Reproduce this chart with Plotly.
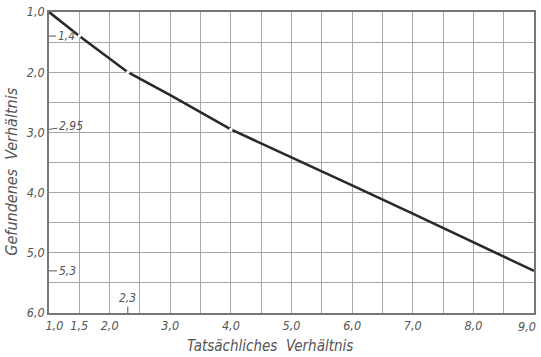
import plotly.graph_objects as go

# Data
actual = [1.0, 1.5, 2.3, 3.0, 4.0, 5.0, 6.0, 7.0, 8.0, 9.0]
found = [1.0, 1.4, 2.0, 2.38, 2.95, 3.41, 3.88, 4.35, 4.82, 5.3]
marked_x = [1.5, 2.3, 4.0]
marked_y = [1.4, 2.0, 2.95]

x_ticks = [1.0, 1.5, 2.0, 3.0, 4.0, 5.0, 6.0, 7.0, 8.0, 9.0]
x_labels = ["1,0", "1,5", "2,0", "3,0", "4,0", "5,0", "6,0", "7,0", "8,0", "9,0"]
y_ticks = [1.0, 2.0, 3.0, 4.0, 5.0, 6.0]
y_labels = ["1,0", "2,0", "3,0", "4,0", "5,0", "6,0"]

FONT = "DejaVu Sans Condensed, Liberation Sans Narrow, sans-serif"
INK = "#555555"
GRID = "#a8a8a8"

# first label nudged right; last label drawn as a right-aligned annotation so it stays on the page
x_text = list(x_labels)
x_text[0] = "\u00a0\u00a0\u00a0" + x_labels[0]
x_text[-1] = ""

fig = go.Figure()
fig.add_trace(go.Scatter(x=actual, y=found, mode="lines",
                         line=dict(color="#2a2a2a", width=2.6), showlegend=False,
                         hoverinfo="skip"))
fig.add_trace(go.Scatter(x=marked_x, y=marked_y, mode="markers",
                         marker=dict(color="white", size=3.5, line=dict(width=0)),
                         showlegend=False, hoverinfo="skip"))

tick_font = dict(family=FONT, size=12.5, color=INK, style="italic")
axis_common = dict(showline=True, linecolor="#777777", linewidth=1.5, mirror=True,
                   showgrid=True, gridcolor=GRID, gridwidth=1, zeroline=False,
                   ticks="", ticklabeloverflow="allow", automargin=False,
                   tickfont=tick_font)

fig.update_xaxes(range=[1.0, 9.0], tickvals=x_ticks, ticktext=x_text,
                 minor=dict(dtick=0.5, tick0=1.0, showgrid=True, gridcolor=GRID, gridwidth=1),
                 **axis_common)
fig.update_yaxes(range=[6.0, 1.0], tickvals=y_ticks, ticktext=y_labels,
                 minor=dict(dtick=0.5, tick0=1.0, showgrid=True, gridcolor=GRID, gridwidth=1),
                 **axis_common)

ann_font = dict(family=FONT, size=12, color=INK, style="italic")
arrow = dict(showarrow=True, arrowhead=0, arrowwidth=1, arrowcolor=INK, standoff=0)
annotations = [
    dict(x=1.0, y=1.4, text="1,4", ax=17, ay=0, **arrow),
    dict(x=1.0, y=2.95, text="2,95", ax=22, ay=-3, **arrow),
    dict(x=1.0, y=5.3, text="5,3", ax=18, ay=0, **arrow),
    dict(x=2.3, y=6.0, text="2,3", ax=0, ay=-15, **arrow),
]
for a in annotations:
    a["font"] = ann_font
    a["xref"] = "x"
    a["yref"] = "y"

annotations.append(dict(x=x_ticks[-1], y=y_ticks[-1], xref="x", yref="y",
                        text=x_labels[-1], showarrow=False, font=tick_font,
                        xanchor="right", yanchor="top", xshift=4, yshift=-4))

annotations.append(dict(x=0.455, y=-0.108, xref="paper", yref="paper",
                        text="Tatsächliches  Verhältnis", showarrow=False,
                        font=dict(family=FONT, size=15, color=INK, style="italic"),
                        xanchor="center", yanchor="middle"))
annotations.append(dict(x=-0.078, y=0.47, xref="paper", yref="paper",
                        text="Gefundenes  Verhältnis", showarrow=False, textangle=-90,
                        font=dict(family=FONT, size=16, color=INK, style="italic"),
                        xanchor="center", yanchor="middle"))

fig.update_layout(width=541, height=357, margin=dict(l=49, r=7, t=12, b=44, autoexpand=False),
                  paper_bgcolor="white", plot_bgcolor="white",
                  annotations=annotations)

fig.write_html("out.html", config={"displayModeBar": False},
               post_script="document.body.style.margin='0';document.body.style.overflow='hidden';")
